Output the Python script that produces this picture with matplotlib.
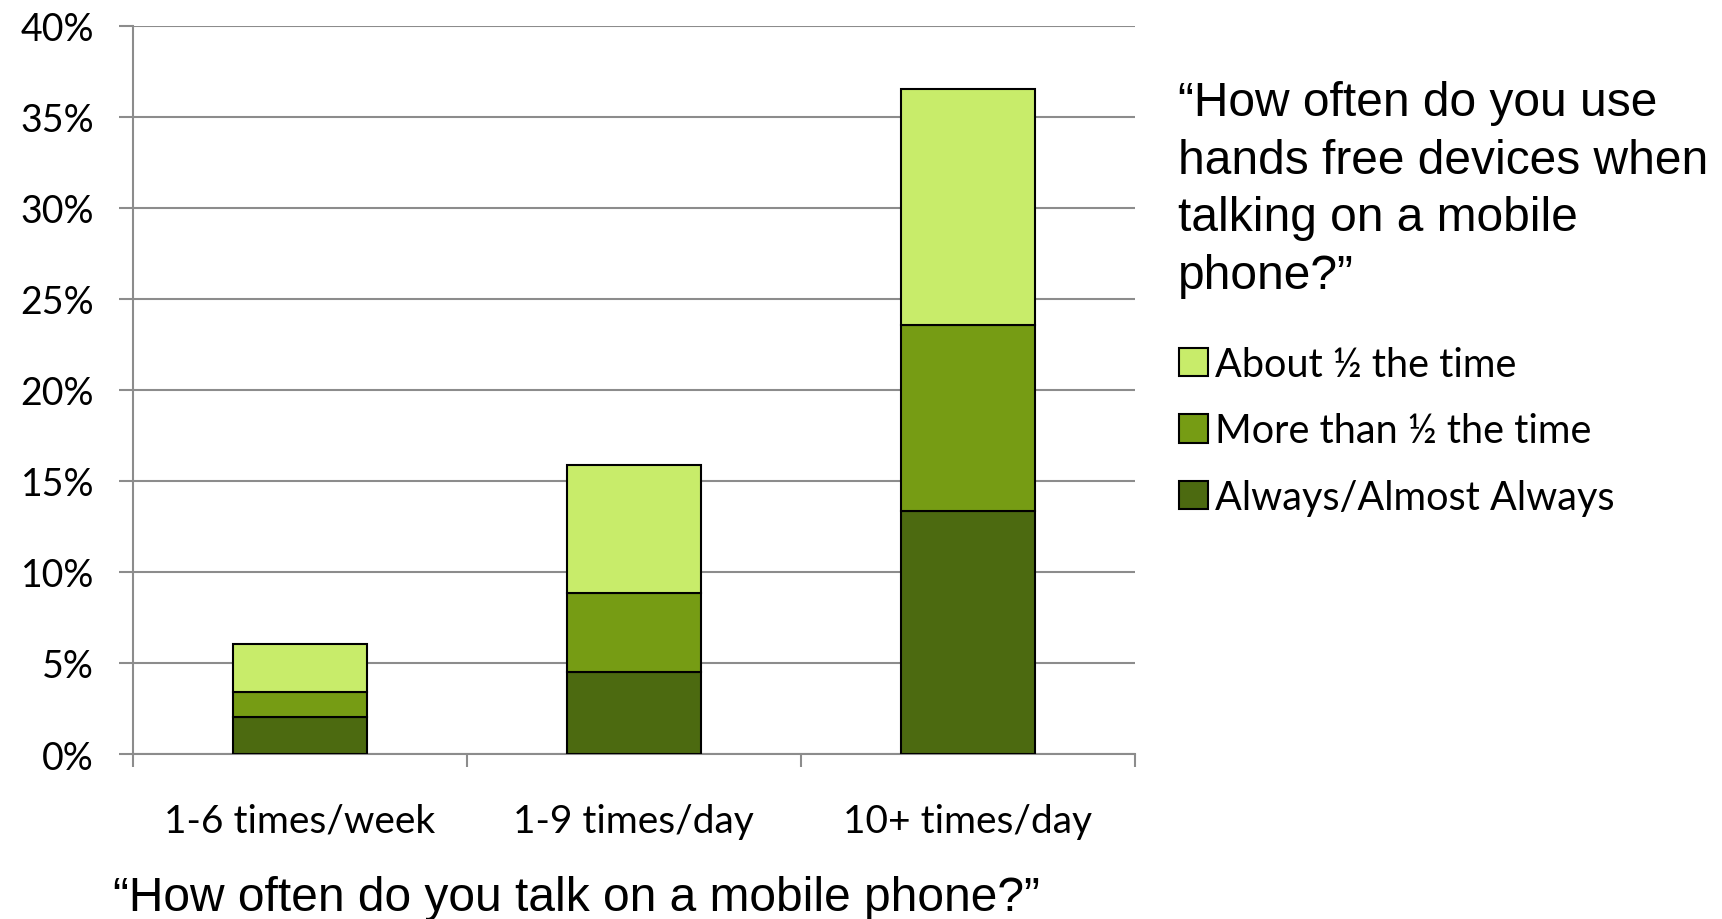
import matplotlib
matplotlib.use("Agg")
import matplotlib.pyplot as plt
from matplotlib.patches import Patch
import numpy as np

categories = ["1-6 times/week", "1-9 times/day", "10+ times/day"]
always = [2.06, 4.50, 13.32]
more_half = [1.34, 4.33, 10.26]
about_half = [2.63, 7.04, 12.97]
series_names = ["Always/Almost Always", "More than \u00bd the time", "About \u00bd the time"]
colors = ["#4C6A10", "#769C14", "#C8EC6A"]
yticks = [0, 5, 10, 15, 20, 25, 30, 35, 40]

fig = plt.figure(figsize=(17.22, 9.2), dpi=100)
ax = fig.add_axes([0.0772, 0.1793, 0.5818, 0.7917])

x = np.arange(len(categories))
bottom = np.zeros(len(categories))
handles = []
for vals, name, col in zip([always, more_half, about_half], series_names, colors):
    ax.bar(x, vals, width=0.4, bottom=bottom, color=col, edgecolor="black",
           linewidth=1.5, zorder=3, label=name)
    bottom += np.array(vals)
    handles.append(Patch(facecolor=col, edgecolor="black", linewidth=1.5, label=name))

ax.set_xlim(-0.5, 2.5)
ax.set_ylim(0, 40)
ax.set_yticks(yticks)
ax.set_yticklabels([f"{t}%" for t in yticks], fontsize=27, family="Lato")
ax.yaxis.grid(True, color="#8c8c8c", linewidth=1.5, zorder=0)
ax.set_axisbelow(True)
for s in ["top", "right"]:
    ax.spines[s].set_visible(False)
for s in ["left", "bottom"]:
    ax.spines[s].set_color("#8c8c8c")
    ax.spines[s].set_linewidth(1.5)
ax.tick_params(axis="y", length=10, width=1.5, color="#8c8c8c", pad=18)
ax.set_xticks([-0.5, 0.5, 1.5, 2.5], minor=False)
ax.set_xticklabels([])
ax.tick_params(axis="x", length=9, width=1.5, color="#8c8c8c", direction="out")
ax.set_xticks(x, minor=True)
ax.set_xticklabels(categories, minor=True, fontsize=28, family="Lato")
ax.tick_params(axis="x", which="minor", length=0, pad=35)

fig.text(0.0655, 0.023, "\u201cHow often do you talk on a mobile phone?\u201d",
         fontsize=34.5, family="Liberation Sans", ha="left", va="center")

fig.text(0.684, 0.912, "\u201cHow often do you use\nhands free devices when\ntalking on a mobile\nphone?\u201d",
         fontsize=34.5, family="Liberation Sans", ha="left", va="top", linespacing=1.36)

leg = fig.legend(handles=handles[::-1], loc="upper left", bbox_to_anchor=(0.664, 0.662),
                 frameon=False, prop={"family": "Lato", "size": 28.5},
                 handlelength=0.72, handleheight=0.72, handletextpad=0.2,
                 labelspacing=0.75)

fig.savefig("out.png", dpi=100)
